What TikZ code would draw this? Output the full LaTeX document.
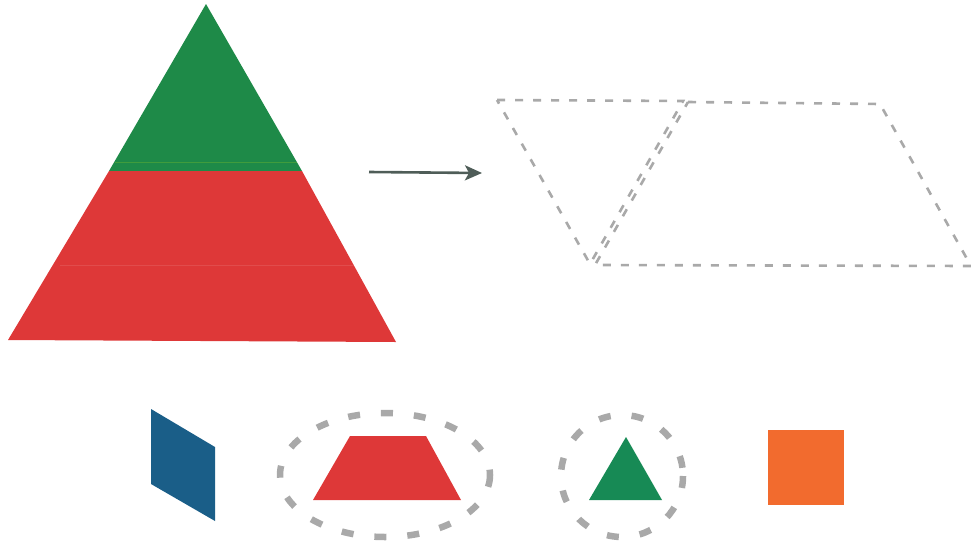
\documentclass[tikz,border=0pt]{standalone}
\usetikzlibrary{arrows.meta}
\definecolor{bgreen}{HTML}{1E8A48}
\definecolor{bred}{HTML}{DE3838}
\definecolor{sgreen}{HTML}{178A55}
\definecolor{pblue}{HTML}{1A5E88}
\definecolor{sorange}{HTML}{F26B2E}
\definecolor{dashgray}{HTML}{A9A9A9}
\definecolor{arrowgray}{HTML}{4F5D58}
\tikzset{
  outline/.style={draw=dashgray, line width=2.6pt, dash pattern=on 8pt off 10pt},
  ring/.style={draw=dashgray, line width=6.5pt, dash pattern=on 12pt off 21pt},
  arrowline/.style={draw=arrowgray, line width=2.6pt, -{Stealth[length=17pt,width=15pt,inset=4pt]}}
}
\begin{document}
\begin{tikzpicture}[x=1pt,y=-1pt]
\useasboundingbox (0,0) rectangle (973,544);
% big triangle
\fill[bgreen] (206,4) -- (302,171) -- (109,171) -- cycle;
\fill[bred] (109,171) -- (302,171) -- (396,342) -- (8,340) -- cycle;
\draw[bgreen!85!yellow, line width=1pt] (115,162) -- (297,162);
\draw[bred!90!white, line width=1pt] (60,265) -- (354,265);
% arrow
\coordinate (a1) at (369,172);
\coordinate (a2) at (482,173);
\draw[arrowline] (a1) -- (a2);
% dashed outlines
\draw[outline] (497,100) -- (683,101) -- (590,264) -- cycle;
\draw[outline] (688,102) -- (880,104) -- (971,266) -- (595,265) -- cycle;
% blue parallelogram
\fill[pblue] (151,409) -- (215,447) -- (215,521) -- (151,484) -- cycle;
% red trapezoid with dashed ellipse
\fill[bred] (350,436) -- (426,436) -- (461,500) -- (313,500) -- cycle;
\draw[ring] (385,475) ellipse [x radius=105, y radius=62];
% small green triangle with dashed circle
\fill[sgreen] (626,437) -- (662,500) -- (589,500) -- cycle;
\draw[ring] (622,476) circle [radius=61];
% orange square
\fill[sorange] (768,430) rectangle (844,505);
\end{tikzpicture}
\end{document}
